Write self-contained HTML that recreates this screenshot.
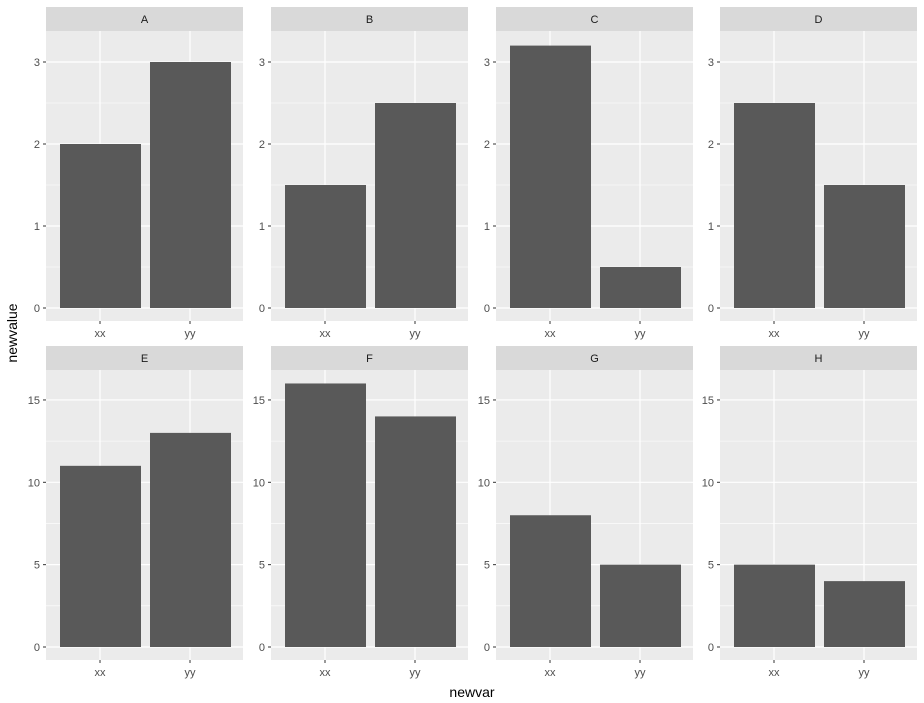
<!DOCTYPE html>
<html><head><style>body{margin:0;background:#fff}svg{display:block}</style></head><body>
<svg width="924" height="703" xmlns="http://www.w3.org/2000/svg" font-family="Liberation Sans, sans-serif">
<rect width="924" height="703" fill="#fff"/>
<g id="all"></g>
</svg>
<script>
const ns="http://www.w3.org/2000/svg",g=document.getElementById("all");
function el(t,a,txt){const e=document.createElementNS(ns,t);for(const k in a)e.setAttribute(k,a[k]);if(txt!==undefined)e.textContent=txt;g.appendChild(e);return e;}
const xs=[46,271,496,720],W=197;
const rows=[{s:7,p0:31,p1:321,z:308,u:82,maj:[0,1,2,3],min:[0.5,1.5,2.5],lab:["0","1","2","3"],names:"ABCD",d:[[2,3],[1.5,2.5],[3.2,0.5],[2.5,1.5]]},
{s:346,p0:370,p1:660,z:647,u:16.47,maj:[0,5,10,15],min:[2.5,7.5,12.5],lab:["0","5","10","15"],names:"EFGH",d:[[11,13],[16,14],[8,5],[5,4]]}];
rows.forEach(r=>{xs.forEach((x,i)=>{
el("rect",{x:x,y:r.s,width:W,height:r.p0-r.s,fill:"#d9d9d9"});
el("text",{x:x+W/2,y:r.s+16,"text-anchor":"middle","font-size":"11",fill:"#1a1a1a"},r.names[i]);
el("rect",{x:x,y:r.p0,width:W,height:r.p1-r.p0,fill:"#ebebeb"});
r.min.forEach(v=>{const y=r.z-v*r.u;el("line",{x1:x,x2:x+W,y1:y,y2:y,stroke:"#fff","stroke-width":"0.6"});});
r.maj.forEach((v,j)=>{const y=r.z-v*r.u;el("line",{x1:x,x2:x+W,y1:y,y2:y,stroke:"#fff","stroke-width":"1.2"});
el("line",{x1:x-3,x2:x,y1:y,y2:y,stroke:"#333","stroke-width":"1"});
el("text",{x:x-6,y:y+4,"text-anchor":"end","font-size":"11",fill:"#4d4d4d"},r.lab[j]);});
[54,144].forEach((c,k)=>{el("line",{x1:x+c,x2:x+c,y1:r.p0,y2:r.p1,stroke:"#fff","stroke-width":"1.2"});
const h=r.d[i][k]*r.u;el("rect",{x:x+c-40,y:r.z-h,width:81,height:h,fill:"#595959"});
el("line",{x1:x+c,x2:x+c,y1:r.p1,y2:r.p1+3,stroke:"#333"});
el("text",{x:x+c,y:r.p1+16,"text-anchor":"middle","font-size":"11",fill:"#4d4d4d"},k?"yy":"xx");});
});});
el("text",{x:472,y:697,"text-anchor":"middle","font-size":"14",fill:"#000"},"newvar");
el("text",{x:17,y:333,"text-anchor":"middle","font-size":"14",fill:"#000",transform:"rotate(-90 17 333)"},"newvalue");
</script>
</body></html>
